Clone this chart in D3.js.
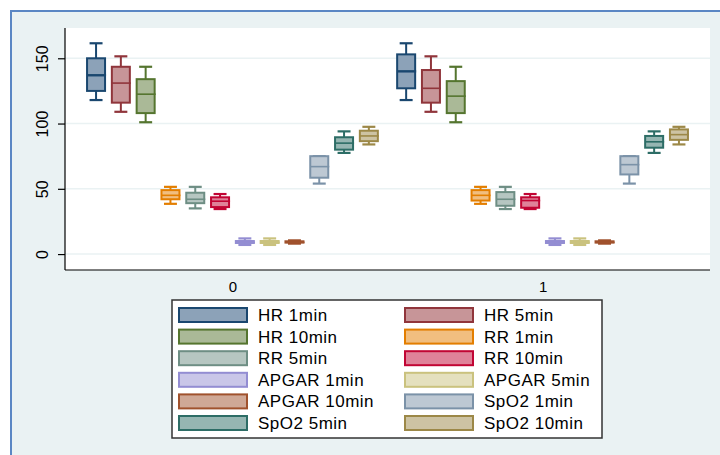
<!DOCTYPE html>
<html>
<head>
<meta charset="utf-8">
<script src="https://cdn.jsdelivr.net/npm/d3@7"></script>
<style>
  html, body { margin: 0; padding: 0; background: #ffffff; }
  svg { display: block; font-family: "Liberation Sans", Arial, sans-serif; }
</style>
</head>
<body>
<div class="container"></div>
<script>
// categories on the x axis
var groups = ["0", "1"];

// one box per measurement, in legend order
var seriesNames = ["HR 1min", "HR 5min", "HR 10min", "RR 1min", "RR 5min", "RR 10min",
  "APGAR 1min", "APGAR 5min", "APGAR 10min", "SpO2 1min", "SpO2 5min", "SpO2 10min"];

// [lower whisker, q1, median, q3, upper whisker] per series
var statsGroup0 = [
  [118, 125, 137, 150, 161.5],
  [109, 116, 131, 143.5, 151.5],
  [101, 108, 122.5, 134, 143.5],
  [38.5, 42, 45, 49, 51.5],
  [35, 39, 42, 47, 51.5],
  [34.5, 36, 40.5, 43.5, 46],
  [7, 8.5, 9, 10, 12],
  [7, 8.5, 9, 10, 12],
  [8, 8.8, 9, 9.8, 10.5],
  [54, 58.5, 67, 75, 75],
  [77.5, 80, 85, 89.5, 94],
  [84, 86.5, 90.5, 94.5, 97.5]
];
var statsGroup1 = [
  [118, 127, 140, 153, 161.5],
  [109, 116, 127, 141, 151.5],
  [101, 108, 121, 132.5, 143.5],
  [38.5, 41, 45, 49, 51.5],
  [34.5, 37, 42, 47.5, 51.5],
  [34.5, 35.5, 41, 43.5, 46],
  [7, 8.5, 9, 10, 12],
  [7, 8.5, 9, 10, 12],
  [8, 8.8, 9, 9.8, 10.5],
  [54, 61, 68.5, 75, 75],
  [77.5, 81.5, 86, 90.5, 94],
  [84, 87.5, 91.5, 95.5, 97.5]
];

var yTicks = [0, 50, 100, 150];

// stata s2color palette
var strokeColors = ["#1a476f", "#90353b", "#55752f", "#e37e00", "#6e8e84", "#c10534",
  "#938dd2", "#cac27e", "#a0522d", "#7b92a8", "#2d6d66", "#9c8847"];
var fillColors = ["#8ca2b8", "#c79598", "#aab997", "#f1be7f", "#b6c6c1", "#df8299",
  "#c9c6e8", "#e4e0be", "#cfa896", "#bdc8d3", "#96b6b2", "#cdc3a3"];

const WIDTH = 720;
const HEIGHT = 455;
const PLOT = { left: 65, right: 710, top: 28, bottom: 270 };

var display = function () {

  var svg = d3.select('.container').append('svg')
    .attr('width', WIDTH)
    .attr('height', HEIGHT);

  // outer frame
  svg.append('rect')
    .attr('x', 11).attr('y', 11)
    .attr('width', WIDTH).attr('height', HEIGHT)
    .attr('fill', '#eaf2f3')
    .attr('stroke', '#5b87c4')
    .attr('stroke-width', 2);

  svg.append('rect')
    .attr('x', PLOT.left).attr('y', PLOT.top)
    .attr('width', PLOT.right - PLOT.left)
    .attr('height', PLOT.bottom - PLOT.top)
    .attr('fill', '#ffffff');

  var yScale = d3.scaleLinear()
    .domain([-12.2, 173.2])
    .range([PLOT.bottom, PLOT.top]);

  var xScale = d3.scalePoint()
    .domain(groups)
    .range([PLOT.left, PLOT.right])
    .padding(0.54);

  var innerWidth = 297.6;
  var inner = d3.scaleBand()
    .domain(seriesNames)
    .range([-innerWidth / 2, innerWidth / 2])
    .paddingInner(0.274)
    .paddingOuter(0.137);

  // grid
  svg.append('g').selectAll('line')
    .data(yTicks)
    .enter().append('line')
    .attr('x1', PLOT.left).attr('x2', PLOT.right)
    .attr('y1', function (d) { return yScale(d); })
    .attr('y2', function (d) { return yScale(d); })
    .attr('stroke', '#eaf2f3')
    .attr('stroke-width', 1.5);

  var yAxis = d3.axisLeft(yScale).tickValues(yTicks).tickSize(7).tickPadding(0);
  var yg = svg.append('g')
    .attr('transform', 'translate(' + PLOT.left + ',0)')
    .call(yAxis);
  yg.select('.domain').attr('stroke', '#000').attr('stroke-width', 1.2)
    .attr('d', 'M0,' + PLOT.top + 'V' + PLOT.bottom);
  yg.selectAll('.tick line').attr('stroke', '#000').attr('stroke-width', 1.2);
  yg.selectAll('.tick text')
    .attr('x', null).attr('dy', null)
    .attr('transform', 'translate(-17,0) rotate(-90)')
    .attr('text-anchor', 'middle')
    .attr('font-size', 16)
    .attr('fill', '#000');

  var xAxis = d3.axisBottom(xScale).tickSize(0).tickPadding(0);
  var xg = svg.append('g')
    .attr('transform', 'translate(0,' + PLOT.bottom + ')')
    .call(xAxis);
  xg.select('.domain').attr('stroke', '#000').attr('stroke-width', 1.2)
    .attr('d', 'M' + PLOT.left + ',0H' + PLOT.right);
  xg.selectAll('.tick text')
    .attr('y', 22).attr('dy', null)
    .attr('font-size', 15)
    .attr('fill', '#000');

  // boxes
  var boxData = [];
  groups.forEach(function (g, gi) {
    var stats = gi === 0 ? statsGroup0 : statsGroup1;
    seriesNames.forEach(function (s, si) {
      boxData.push({ group: g, name: s, i: si, v: stats[si] });
    });
  });

  var bw = inner.bandwidth();
  var capW = bw * 0.72;

  var boxes = svg.append('g').selectAll('g.box')
    .data(boxData)
    .enter().append('g')
    .attr('class', 'box')
    .attr('transform', function (d) {
      return 'translate(' + (xScale(d.group) + inner(d.name) + bw / 2) + ',0)';
    });

  boxes.append('line')
    .attr('x1', 0).attr('x2', 0)
    .attr('y1', function (d) { return yScale(d.v[0]); })
    .attr('y2', function (d) { return yScale(d.v[4]); })
    .attr('stroke', function (d) { return strokeColors[d.i]; })
    .attr('stroke-width', 2);

  boxes.selectAll('line.cap')
    .data(function (d) { return [{ i: d.i, v: d.v[0] }, { i: d.i, v: d.v[4] }]; })
    .enter().append('line')
    .attr('class', 'cap')
    .attr('x1', -capW / 2).attr('x2', capW / 2)
    .attr('y1', function (d) { return yScale(d.v); })
    .attr('y2', function (d) { return yScale(d.v); })
    .attr('stroke', function (d) { return strokeColors[d.i]; })
    .attr('stroke-width', 2.2);

  boxes.append('rect')
    .attr('x', -bw / 2)
    .attr('width', bw)
    .attr('y', function (d) { return yScale(d.v[3]); })
    .attr('height', function (d) { return Math.max(yScale(d.v[1]) - yScale(d.v[3]), 0.5); })
    .attr('fill', function (d) { return fillColors[d.i]; })
    .attr('stroke', function (d) { return strokeColors[d.i]; })
    .attr('stroke-width', 2);

  boxes.append('line')
    .attr('x1', -bw / 2).attr('x2', bw / 2 + 1)
    .attr('y1', function (d) { return yScale(d.v[2]); })
    .attr('y2', function (d) { return yScale(d.v[2]); })
    .attr('stroke', function (d) { return strokeColors[d.i]; })
    .attr('stroke-width', function (d) { return d.i === 0 ? 2.4 : 1.6; });

  // legend
  var legend = svg.append('g');
  legend.append('rect')
    .attr('x', 172).attr('y', 300)
    .attr('width', 430).attr('height', 138)
    .attr('fill', '#ffffff')
    .attr('stroke', '#333333')
    .attr('stroke-width', 1.5);

  var items = legend.selectAll('g.item')
    .data(seriesNames)
    .enter().append('g')
    .attr('class', 'item')
    .attr('transform', function (d, i) {
      var col = i % 2, row = Math.floor(i / 2);
      return 'translate(' + (178 + col * 226) + ',' + (315 + row * 21.6) + ')';
    });

  items.append('rect')
    .attr('x', 1).attr('y', -7)
    .attr('width', 68).attr('height', 14)
    .attr('fill', function (d, i) { return fillColors[i]; })
    .attr('stroke', function (d, i) { return strokeColors[i]; })
    .attr('stroke-width', 2);

  items.append('text')
    .attr('x', 80).attr('y', 6)
    .attr('font-size', 17)
    .attr('letter-spacing', 0.5)
    .attr('fill', '#000')
    .text(function (d) { return d; });
};

window.onload = display;
</script>
</body>
</html>
